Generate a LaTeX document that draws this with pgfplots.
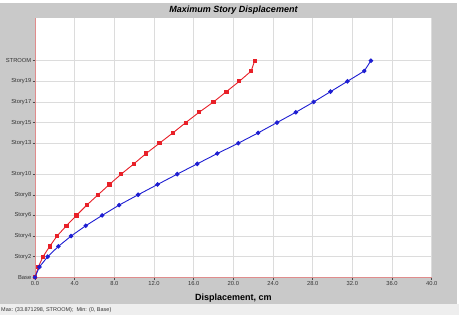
\documentclass[border=0pt]{standalone}
\usepackage{fontspec}
\setmainfont{Liberation Sans}
\usepackage{pgfplots}
\pgfplotsset{compat=1.18}
\definecolor{panel}{HTML}{C9C9C9}
\definecolor{strip}{HTML}{EEEEEE}
\definecolor{axred}{HTML}{E08C8C}
\definecolor{serred}{HTML}{E82028}
\definecolor{serblue}{HTML}{1E1ED2}
\definecolor{gridc}{HTML}{DCDCDC}
\begin{document}
\begin{tikzpicture}[x=1pt,y=1pt]
\path[use as bounding box] (0,0) rectangle (459,315);
\fill[white] (0,0) rectangle (459,315);
\fill[panel] (0,11) rectangle (457,312);
\fill[strip] (0,0) rectangle (459,11);
\node[font=\bfseries\itshape\fontsize{9}{10}\selectfont] at (233.5,305) {Maximum Story Displacement};
\node[anchor=west, inner sep=0pt, font=\fontsize{5.5}{6}\selectfont, text=black!80] at (1,5) {Max: (33.871298, STROOM);\ \ Min: (0, Base)};
\begin{axis}[
  at={(35pt,37.7pt)}, anchor=south west, scale only axis,
  width=396.7pt, height=259.3pt,
  xmin=0, xmax=40, ymin=0, ymax=25.14,
  axis background/.style={fill=white},
  axis x line*=bottom, axis y line*=left,
  axis line style={draw=axred, line width=0.8pt, -},
  xtick={0,4,...,40},
  ytick={0,2,4,6,8,10,13,15,17,19,21},
  yticklabels={Base,Story2,Story4,Story6,Story8,Story10,Story13,Story15,Story17,Story19,STROOM},
  tick align=outside, major tick length=2.5pt,
  tick style={draw=black!70, line width=0.4pt},
  grid=major, major grid style={draw=gridc, line width=0.5pt},
  /pgf/number format/assume math mode=true,
  xticklabel={\pgfmathprintnumber[fixed,fixed zerofill,precision=1]{\tick}},
  ticklabel style={font=\fontsize{5.8}{6}\selectfont, text=black!80},
  xticklabel style={inner sep=1pt},
  yticklabel style={inner sep=1pt},
  xlabel={Displacement, cm},
  xlabel style={font=\bfseries\fontsize{9}{10}\selectfont, at={(axis description cs:0.5,0)}, anchor=center, yshift=-21pt},
]
\addplot[color=serred, line width=0.9pt, mark=square*, mark size=1.6pt] coordinates {
(0,0) (0.33,1) (0.81,2) (1.48,3) (2.22,4) (3.17,5) (4.18,6) (5.22,7) (6.36,8) (7.5,9) (8.69,10) (9.97,11) (11.2,12) (12.55,13) (13.9,14) (15.2,15) (16.55,16) (18.0,17) (19.3,18) (20.6,19) (21.8,20) (22.15,21)
};
\addplot[color=serblue, line width=0.9pt, mark=*, mark size=1.8pt] coordinates {
(0,0) (0.44,1) (1.28,2) (2.36,3) (3.64,4) (5.12,5) (6.77,6) (8.48,7) (10.4,8) (12.36,9) (14.34,10) (16.36,11) (18.38,12) (20.5,13) (22.5,14) (24.4,15) (26.3,16) (28.1,17) (29.8,18) (31.5,19) (33.2,20) (33.87,21)
};
\end{axis}
\end{tikzpicture}
\end{document}
